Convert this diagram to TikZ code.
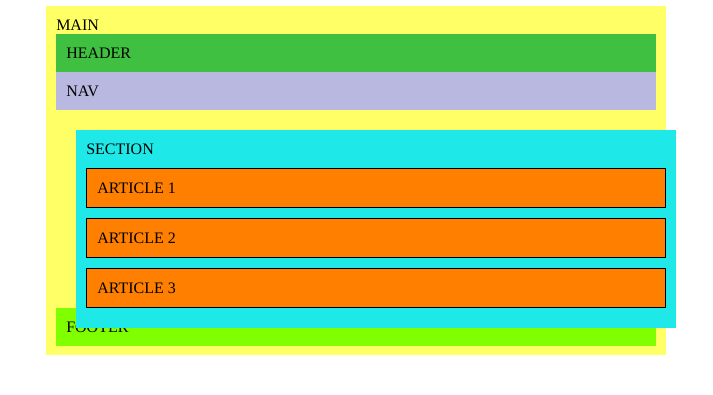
\documentclass[tikz,border=0pt]{standalone}
\usepackage{fontspec}
\setmainfont{Liberation Serif}
\definecolor{mainyellow}{RGB}{255,255,102}
\definecolor{headgreen}{RGB}{64,192,64}
\definecolor{navblue}{RGB}{184,184,224}
\definecolor{sectcyan}{RGB}{30,232,232}
\definecolor{artorange}{RGB}{255,128,0}
\definecolor{footgreen}{RGB}{128,255,0}
\tikzset{
  lbl/.style={anchor=base west,inner sep=0pt,font=\fontsize{12}{14}\selectfont},
  artbox/.style={fill=artorange,draw=black,line width=0.75pt}
}
\begin{document}
\begin{tikzpicture}[x=0.75pt,y=-0.75pt]
            \useasboundingbox (0,0) rectangle (713,394);
            \fill[mainyellow] (46,6) rectangle (666,355);      % main
            \node[lbl] (main) at (56,30) {MAIN};
            \fill[headgreen] (56,34) rectangle (656,72);       % header
            \node[lbl] (header) at (66,58) {HEADER};
            \fill[navblue] (56,72) rectangle (656,110);        % nav
            \node[lbl] (nav) at (66,96) {NAV};
            \fill[footgreen] (56,308) rectangle (656,346);     % footer
            \node[lbl] (footer) at (66,332) {FOOTER};
            \fill[sectcyan] (76,130) rectangle (676,328);      % section
            \node[lbl] (section) at (86,154) {SECTION};
            \foreach \i in {1,2,3} {
                \draw[artbox] (86.5,118.5+50*\i) rectangle (665.5,157.5+50*\i);
                \node[lbl] (article\i) at (97,143+50*\i) {ARTICLE \i};
            }
        \end{tikzpicture}
\end{document}
